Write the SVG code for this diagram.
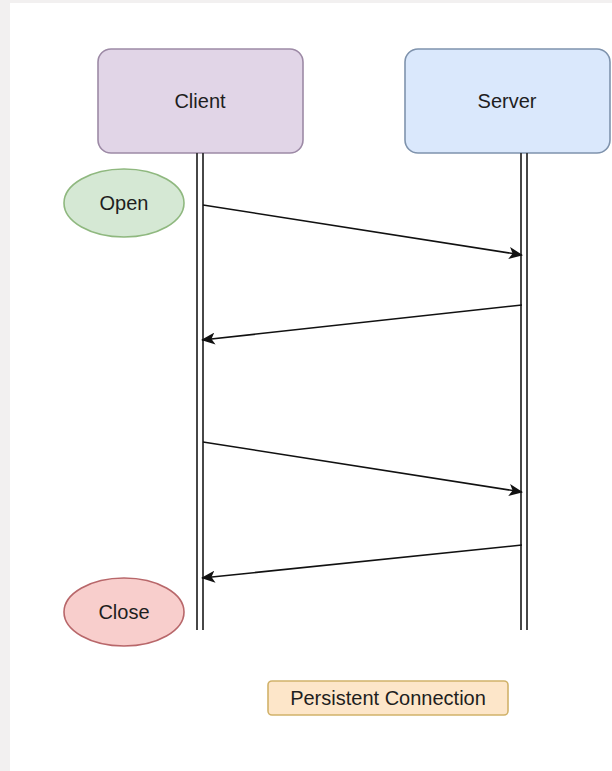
<svg xmlns="http://www.w3.org/2000/svg" width="612" height="771" viewBox="0 0 612 771">
  <style>
    .lbl { font-family: "Liberation Sans", Arial, sans-serif; font-size: 20px; fill: #1e1e1e; text-anchor: middle; }
    .life { stroke: #333333; stroke-width: 1.8; fill: none; }
    .msg { stroke: #111111; stroke-width: 1.6; fill: none; marker-end: url(#arrow); }
  </style>
  <defs>
    <marker id="arrow" viewBox="0 0 14 12" refX="13" refY="6" markerWidth="14" markerHeight="12" markerUnits="userSpaceOnUse" orient="auto">
      <path d="M0,0 L14,6 L0,12 L3.5,6 Z" fill="#111111"/>
    </marker>
  </defs>

  <!-- page background -->
  <rect x="0" y="0" width="612" height="771" fill="#f2f0f0"/>
  <rect x="10" y="3" width="602" height="768" fill="#ffffff"/>

  <g id="client">
    <rect x="98" y="49" width="205" height="104" rx="13" fill="#e1d5e7" stroke="#9d8aa6" stroke-width="1.6"/>
    <text class="lbl" x="200" y="108">Client</text>
  </g>

  <g id="server">
    <rect x="405" y="49" width="205" height="104" rx="13" fill="#dae8fc" stroke="#7f93ad" stroke-width="1.6"/>
    <text class="lbl" x="507" y="108">Server</text>
  </g>

  <g id="open">
    <ellipse cx="124" cy="203" rx="60" ry="34" fill="#d5e8d4" stroke="#8fb87f" stroke-width="1.6"/>
    <text class="lbl" x="124" y="210">Open</text>
  </g>

  <g id="close">
    <ellipse cx="124" cy="612" rx="60" ry="34" fill="#f8cecc" stroke="#b8676a" stroke-width="1.6"/>
    <text class="lbl" x="124" y="619">Close</text>
  </g>

  <g id="persistent-connection">
    <rect x="268" y="681" width="240" height="34" rx="4" fill="#fde6c9" stroke="#d1b26a" stroke-width="1.6"/>
    <text class="lbl" x="388" y="705">Persistent Connection</text>
  </g>

  <g id="connectors">
    <!-- lifelines -->
    <line class="life" x1="197" y1="153" x2="197" y2="630"/>
    <line class="life" x1="203" y1="153" x2="203" y2="630"/>
    <line class="life" x1="521" y1="153" x2="521" y2="630"/>
    <line class="life" x1="527" y1="153" x2="527" y2="630"/>
    <!-- messages -->
    <line class="msg" x1="203" y1="205" x2="522" y2="255"/>
    <line class="msg" x1="522" y1="305" x2="202" y2="340"/>
    <line class="msg" x1="203" y1="442" x2="522" y2="492"/>
    <line class="msg" x1="522" y1="545" x2="202" y2="578"/>
  </g>
</svg>
